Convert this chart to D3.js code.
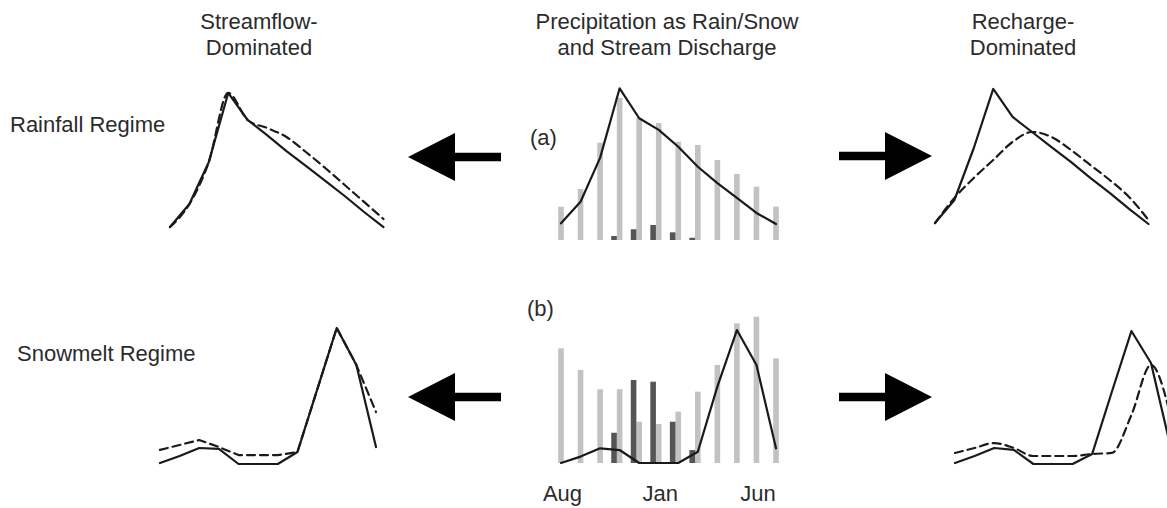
<!DOCTYPE html>
<html><head><meta charset="utf-8">
<script src="https://cdn.jsdelivr.net/npm/d3@7"></script>
<style>html,body{margin:0;padding:0;background:#fff;} svg{display:block;font-family:"Liberation Sans",Arial,Helvetica,sans-serif;}</style>
</head><body><svg id="chart" width="1167" height="508"></svg>
<script>
// ---- data (arbitrary relative units) ----
const months = ["Aug","Sep","Oct","Nov","Dec","Jan","Feb","Mar","Apr","May","Jun","Jul"];
const monthTicks = ["Aug","Jan","Jun"];

// (a) rainfall regime
const rainA = [20.8, 31.9, 60.8, 88.8, 76.3, 73.1, 61.4, 59.4, 50, 41.3, 33.3, 20.8];
const snowA = [0, 0, 0, 2.5, 6.7, 9.4, 4.8, 1.4, 0, 0, 0, 0];
const flowA = [10.4, 23.9, 51.3, 94.8, 76.1, 68.8, 58.3, 45.8, 35.6, 26.3, 16.9, 10];

// (b) snowmelt regime
const rainB = [71.7, 58.1, 46.1, 46.1, 25.8, 24.4, 32.1, 44.6, 61.3, 87.3, 91.4, 65.4];
const snowB = [0, 0, 0, 18.9, 51.9, 50.8, 25.8, 8.1, 0, 0, 0, 0];
const flowB = [0, 4, 9.2, 8.1, 0, 0, 0, 7, 47.7, 83.1, 61.3, 9.2];

// side panels: streamflow (solid) and groundwater (dashed)
const sfRainSolid  = [8.1, 22.5, 48.8, 91.9, 75, 65.6, 55.6, 46.3, 36.9, 27.5, 17.5, 8.1];
const sfRainDashed = [8.1, 22.5, 48.8, 91.9, 75, 70, 64.4, 55, 45, 34.4, 23.8, 13.1];
const rcRainSolid  = [10.6, 25, 57.5, 94.4, 76.9, 67.5, 58.1, 48.8, 38.8, 29.4, 19.4, 10];
const rcRainDashed = [10.6, 26.3, 38.8, 50, 61.3, 67.5, 64.4, 56.3, 46.9, 37.5, 26.9, 12.5];
const sfSnowSolid  = [0.6, 5, 10, 9.4, 0, 0, 0, 7.5, 46.3, 85, 61.9, 10.6];
const sfSnowDashed = [8.8, 11.9, 15, 10.6, 5.6, 5.6, 5.6, 7.5, 46.3, 85, 61.9, 32.5];
const rcSnowSolid  = [0.6, 5, 10, 8.8, 0, 0, 0, 6.3, 45, 83.1, 63.1, 10.6];
const rcSnowDashed = [6.9, 10, 13.1, 10, 5, 5, 5, 6.3, 6.9, 30.6, 61.9, 30];

// ---- drawing ----
const svg = d3.select("#chart");
const ink = "#1a1a1a", txt = "#2b2b2b";
const FS = 22;

// scales
const xC  = d3.scalePoint().domain(months).range([561, 776]);
const xL1 = d3.scalePoint().domain(months).range([170, 383.5]);
const xR1 = d3.scalePoint().domain(months).range([935, 1148.5]);
const xL2 = d3.scalePoint().domain(months).range([160, 376]);
const xR2 = d3.scalePoint().domain(months).range([955, 1170.6]);
const yA  = d3.scaleLinear().domain([0, 100]).range([240, 80]);
const yB  = d3.scaleLinear().domain([0, 100]).range([463, 303]);
const yS2 = d3.scaleLinear().domain([0, 100]).range([464, 304]);
const barW = 5.6;

function bars(vals, x, y, offset, color) {
  svg.append("g").selectAll("rect").data(months.map((m, i) => ({m, v: vals[i]})).filter(d => d.v > 0))
    .join("rect")
    .attr("x", d => x(d.m) + offset)
    .attr("width", barW)
    .attr("y", d => y(d.v))
    .attr("height", d => y(0) - y(d.v))
    .attr("fill", color);
}
function line(vals, x, y, dashed, curve) {
  const gen = d3.line().x((d, i) => x(months[i])).y(d => y(d)).curve(curve || d3.curveLinear);
  svg.append("path").datum(vals).attr("d", gen)
    .attr("fill", "none").attr("stroke", ink).attr("stroke-width", 2.2)
    .attr("stroke-linejoin", "round").attr("stroke-linecap", "round")
    .attr("stroke-dasharray", dashed ? "8,5" : null);
}

// center panel (a)
bars(rainA, xC, yA, -barW / 2, "#c2c2c2");
bars(snowA, xC, yA, -barW / 2 - barW, "#555");
line(flowA, xC, yA, false);
// center panel (b)
bars(rainB, xC, yB, -barW / 2, "#c2c2c2");
bars(snowB, xC, yB, -barW / 2 - barW, "#555");
line(flowB, xC, yB, false);

// side panels
line(sfRainSolid, xL1, yA, false);
line(sfRainDashed, xL1, yA, true, d3.curveMonotoneX);
line(rcRainSolid, xR1, yA, false);
line(rcRainDashed, xR1, yA, true, d3.curveMonotoneX);
line(sfSnowSolid, xL2, yS2, false);
line(sfSnowDashed, xL2, yS2, true);
line(rcSnowSolid, xR2, yS2, false);
line(rcSnowDashed, xR2, yS2, true, d3.curveMonotoneX);

// month ticks
svg.append("g").selectAll("text").data(monthTicks).join("text")
  .attr("x", d => xC(d) + 1.5).attr("y", 501)
  .attr("text-anchor", "middle").attr("font-size", FS).attr("fill", txt).text(d => d);

// titles
function text2(lines, cx, y0) {
  lines.forEach((s, i) => svg.append("text").attr("x", cx).attr("y", y0 + i * 26)
    .attr("text-anchor", "middle").attr("font-size", FS).attr("fill", txt).text(s));
}
text2(["Streamflow-", "Dominated"], 259, 29);
text2(["Precipitation as Rain/Snow", "and Stream Discharge"], 667, 29);
text2(["Recharge-", "Dominated"], 1023, 29);

svg.append("text").attr("x", 10).attr("y", 132).attr("font-size", FS).attr("fill", txt).text("Rainfall Regime");
svg.append("text").attr("x", 17).attr("y", 361).attr("font-size", FS).attr("fill", txt).text("Snowmelt Regime");
svg.append("text").attr("x", 530).attr("y", 145).attr("font-size", FS).attr("fill", txt).text("(a)");
svg.append("text").attr("x", 527).attr("y", 316).attr("font-size", FS).attr("fill", txt).text("(b)");

// arrows
function arrow(tipX, cy, dir) {
  // dir = -1 left-pointing, +1 right-pointing
  const headL = 47, headH = 24, shaftL = 46, shaftH = 4.2;
  const bx = tipX - dir * headL;
  const ex = bx - dir * shaftL;
  const p = d3.path();
  p.moveTo(tipX, cy);
  p.lineTo(bx, cy - headH);
  p.lineTo(bx, cy - shaftH);
  p.lineTo(ex, cy - shaftH);
  p.lineTo(ex, cy + shaftH);
  p.lineTo(bx, cy + shaftH);
  p.lineTo(bx, cy + headH);
  p.closePath();
  svg.append("path").attr("d", p.toString()).attr("fill", "#000");
}
arrow(408, 157, -1);
arrow(932, 156, 1);
arrow(408, 397, -1);
arrow(932, 397, 1);
</script>
</body></html>
